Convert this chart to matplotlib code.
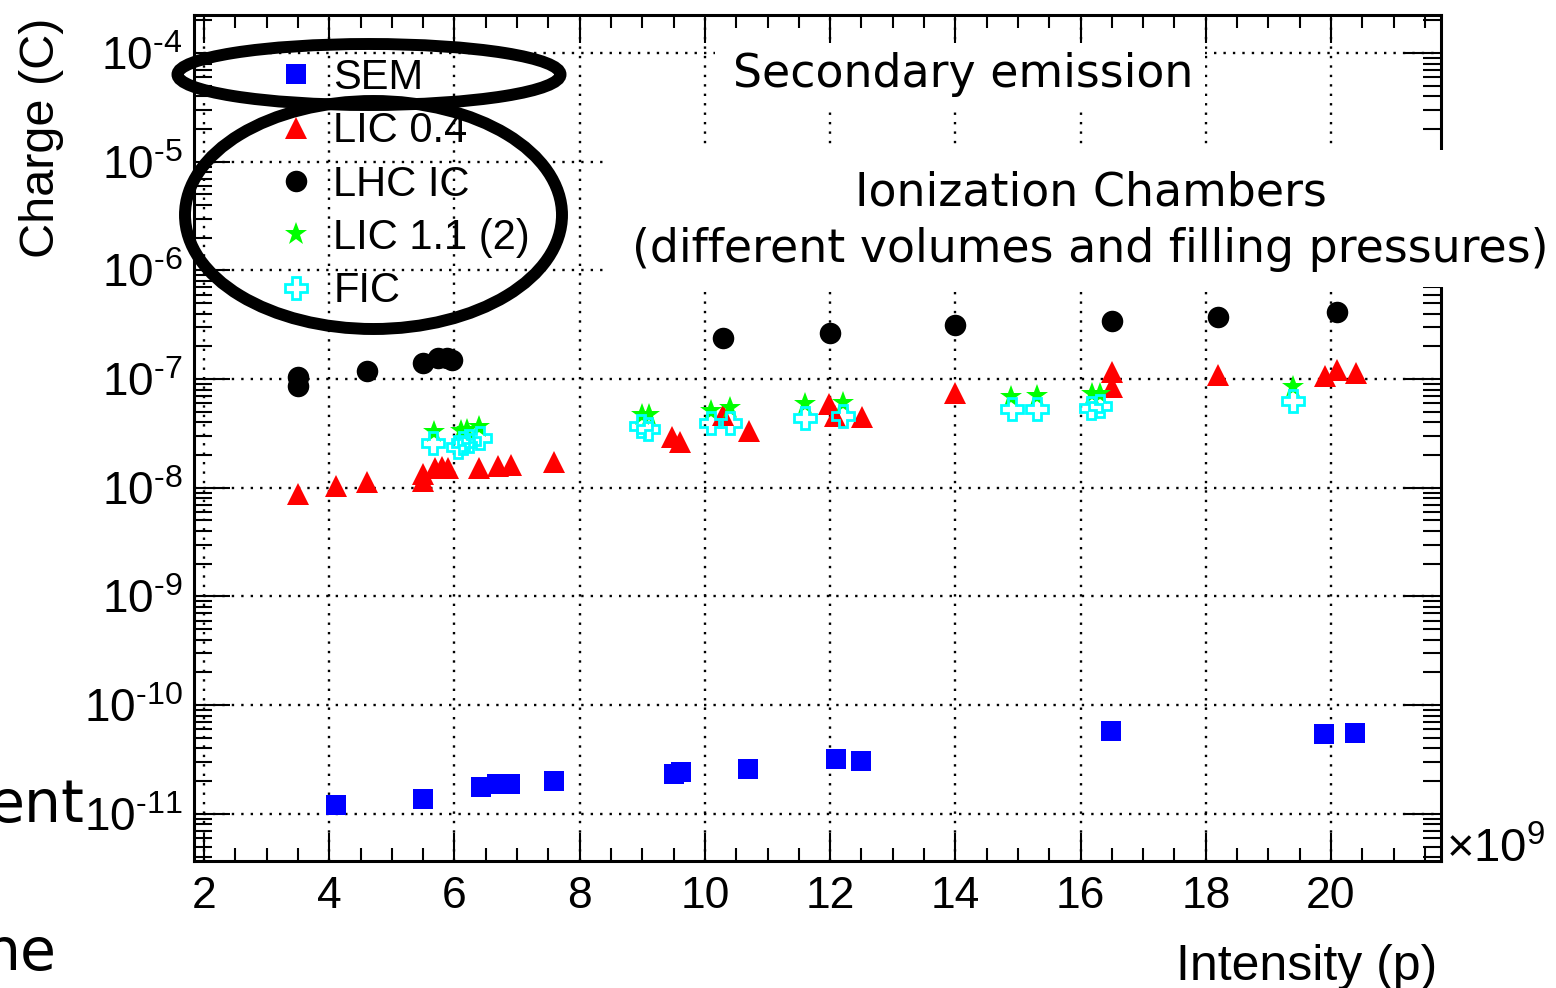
"""Collected charge vs beam intensity for the SEM and the ionization chambers."""

import math
import matplotlib
matplotlib.use("Agg")
import matplotlib.pyplot as plt
import matplotlib.ticker as mticker
from matplotlib.patches import Ellipse, Rectangle

W, H = 1556, 988
DPI = 100

plt.rcParams["font.family"] = ["Liberation Sans", "DejaVu Sans"]
plt.rcParams["mathtext.fontset"] = "custom"
plt.rcParams["mathtext.rm"] = "Liberation Sans"
plt.rcParams["mathtext.it"] = "Liberation Sans:italic"
plt.rcParams["axes.unicode_minus"] = False

# --- data: intensity in units of 1e9 protons, charge in C ---
sem_x = [4.11, 5.50, 6.42, 6.68, 6.89, 7.59, 9.51, 9.62, 10.69, 12.10, 12.50, 16.49, 19.89, 20.39]
sem_q = [1.21e-11, 1.37e-11, 1.77e-11, 1.88e-11, 1.90e-11, 2.00e-11, 2.33e-11, 2.43e-11,
         2.59e-11, 3.20e-11, 3.06e-11, 5.77e-11, 5.42e-11, 5.50e-11]

lic04_x = [3.50, 4.11, 4.60, 5.50, 5.50, 5.69, 5.80, 5.90, 6.39, 6.70, 6.90, 7.59, 9.48, 9.60,
           10.29, 10.71, 11.98, 12.08, 12.51, 14.00, 16.50, 16.50, 18.20, 19.91, 20.10, 20.40]
lic04_q = [8.8e-9, 1.04e-8, 1.135e-8, 1.16e-8, 1.34e-8, 1.52e-8, 1.56e-8, 1.52e-8, 1.52e-8,
           1.59e-8, 1.63e-8, 1.73e-8, 2.94e-8, 2.64e-8, 4.67e-8, 3.33e-8, 5.9e-8, 4.58e-8,
           4.48e-8, 7.44e-8, 1.16e-7, 8.45e-8, 1.09e-7, 1.07e-7, 1.21e-7, 1.14e-7]

lhc_x = [3.50, 3.50, 4.60, 5.50, 5.74, 5.88, 5.96, 10.29, 12.00, 14.00, 16.50, 18.20, 20.10]
lhc_q = [1.04e-7, 8.6e-8, 1.18e-7, 1.40e-7, 1.56e-7, 1.56e-7, 1.49e-7, 2.38e-7, 2.64e-7,
         3.13e-7, 3.40e-7, 3.70e-7, 4.12e-7]

lic11_x = [5.67, 6.11, 6.20, 6.39, 9.00, 9.11, 10.10, 10.40, 11.60, 12.21, 14.89, 15.31,
           16.19, 16.31, 19.40]
lic11_q = [3.27e-8, 3.33e-8, 3.40e-8, 3.63e-8, 4.67e-8, 4.67e-8, 5.08e-8, 5.42e-8, 5.9e-8,
           6.03e-8, 6.84e-8, 6.98e-8, 7.28e-8, 7.28e-8, 8.45e-8]

fic_x = [5.66, 6.06, 6.14, 6.23, 6.41, 8.98, 9.09, 10.10, 10.40, 11.60, 12.21, 14.91, 15.31,
         16.17, 16.31, 19.40]
fic_q = [2.59e-8, 2.38e-8, 2.59e-8, 2.70e-8, 2.88e-8, 3.71e-8, 3.48e-8, 3.95e-8, 3.95e-8,
         4.38e-8, 4.58e-8, 5.31e-8, 5.31e-8, 5.42e-8, 5.65e-8, 6.28e-8]

x_ticks = [2, 4, 6, 8, 10, 12, 14, 16, 18, 20]


def fx(px):
    return px / W


def fy(py):
    return 1 - py / H


def decade_label(val, _pos):
    # ROOT-style "10^-n" with a short hyphen in the exponent
    exp = int(round(math.log10(val)))
    if exp < 0:
        return r"$\mathdefault{10^{\text{-}%d}}$" % (-exp)
    return r"$\mathdefault{10^{%d}}$" % exp


fig = plt.figure(figsize=(W / DPI, H / DPI), dpi=DPI)
ax = fig.add_axes([fx(193.5), fy(861), fx(1441) - fx(193.5), fy(15) - fy(861)])

ax.plot(sem_x, sem_q, ls="none", marker="s", ms=15, mfc="#0000ff", mec="#0000ff", mew=0, label="SEM")
ax.plot(lic04_x, lic04_q, ls="none", marker="^", ms=15.5, mfc="#ff0000", mec="#ff0000", mew=0, label="LIC 0.4")
ax.plot(lhc_x, lhc_q, ls="none", marker="o", ms=15.5, mfc="black", mec="black", mew=0, label="LHC IC")
ax.plot(lic11_x, lic11_q, ls="none", marker="*", ms=17, mfc="#00ff00", mec="#00ff00", mew=0, label="LIC 1.1 (2)")
ax.plot(fic_x, fic_q, ls="none", marker="P", ms=16, mfc="none", mec="#00ffff", mew=2, label="FIC")

ax.set_yscale("log")
ax.set_xlim(1.832, 21.757)
ax.set_ylim(10 ** -11.434, 10 ** -3.65)

ax.xaxis.set_major_locator(mticker.FixedLocator(x_ticks))
ax.xaxis.set_minor_locator(mticker.MultipleLocator(0.5))
ax.yaxis.set_major_locator(mticker.LogLocator(base=10, numticks=20))
ax.yaxis.set_minor_locator(mticker.LogLocator(base=10, subs=range(2, 10), numticks=20))
ax.yaxis.set_major_formatter(mticker.FuncFormatter(decade_label))
ax.yaxis.set_minor_formatter(mticker.NullFormatter())

ax.tick_params(which="both", direction="in", top=True, right=True, width=1.5, colors="black")
ax.tick_params(axis="x", which="major", length=20, labelsize=32, pad=11)
ax.tick_params(axis="x", which="minor", length=9.5)
ax.tick_params(axis="y", which="major", length=26, labelsize=33, pad=8)
ax.tick_params(axis="y", which="minor", length=13)
for sp in ax.spines.values():
    sp.set_linewidth(2.2)

ax.grid(True, which="major", color="black", linestyle=(0, (1, 3)), linewidth=1.7)
ax.set_axisbelow(True)

leg = ax.legend(loc="upper left", bbox_to_anchor=(fx(279), fy(58)), bbox_transform=fig.transFigure,
                frameon=False, fontsize=30, handlelength=0.8, handletextpad=0.5,
                labelspacing=0.32, borderpad=0, borderaxespad=0, numpoints=1)

# axis titles
fig.text(fx(42), fy(138), "Charge (C)", rotation=90, ha="center", va="center", fontsize=35)
fig.text(fx(1437), fy(980), "Intensity (p)", ha="right", va="baseline", fontsize=36)
fig.text(fx(1446), fy(862), "×10$^{9}$", ha="left", va="baseline", fontsize=34)

# white panels behind the annotations
fig.add_artist(Rectangle((fx(715), fy(108)), fx(1205) - fx(715), fy(44) - fy(108),
                         transform=fig.transFigure, facecolor="white", edgecolor="none", zorder=5))
fig.add_artist(Rectangle((fx(608), fy(287)), fx(1560) - fx(608), fy(150) - fy(287),
                         transform=fig.transFigure, facecolor="white", edgecolor="none", zorder=5))

note = dict(family="DejaVu Sans", fontsize=33, zorder=6, va="baseline")
fig.text(fx(963), fy(87), "Secondary emission", ha="center", **note)
fig.text(fx(1091), fy(206), "Ionization Chambers", ha="center", **note)
fig.text(fx(1090), fy(262), "(different volumes and filling pressures)", ha="center", **note)

# leftover slide text at the left edge
fig.text(fx(85), fy(822), "ent", ha="right", va="baseline", family="DejaVu Sans", fontsize=42)
fig.text(fx(57), fy(970), "ne", ha="right", va="baseline", family="DejaVu Sans", fontsize=42)

# hand-drawn rings around the legend
for cx, cy, w, h in [(369, 74.5, 383, 61), (373.5, 215, 377, 228)]:
    fig.add_artist(Ellipse((fx(cx), fy(cy)), fx(w), h / H, transform=fig.transFigure,
                           fill=False, edgecolor="black", linewidth=8.6, zorder=10))

fig.savefig("out.png", dpi=DPI)
